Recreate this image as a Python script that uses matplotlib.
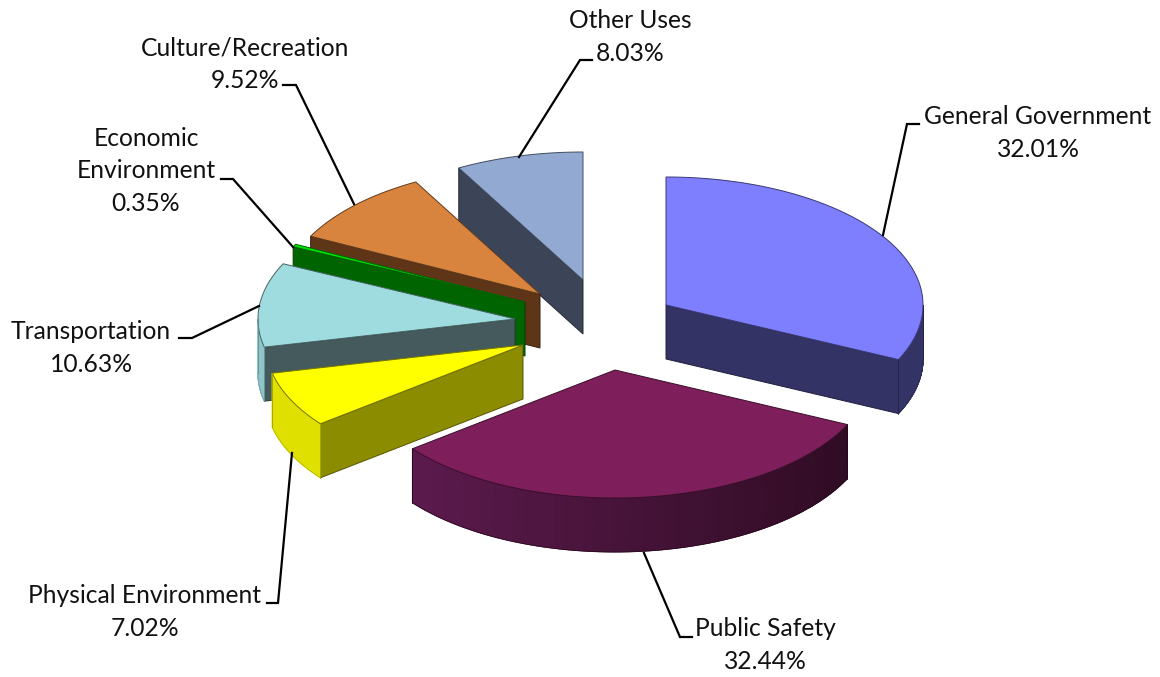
import numpy as np
import matplotlib
matplotlib.use("Agg")
import matplotlib.pyplot as plt
from matplotlib.colors import LinearSegmentedColormap, to_rgb
from matplotlib.patches import Polygon

# Fund shares, clockwise from 12 o'clock
names = ["General Government", "Public Safety", "Physical Environment", "Transportation",
         "Economic\nEnvironment", "Culture/Recreation", "Other Uses"]
shares = [32.01, 32.44, 7.02, 10.63, 0.35, 9.52, 8.03]

top_colors = ["#7e7fff", "#7e1f5c", "#ffff00", "#9fdcdf", "#00e000", "#d8843e", "#92a9d1"]
cut_colors = ["#333366", "#4a1038", "#8c8c00", "#455a5c", "#006400", "#5f3518", "#3c4558"]
rim_left = ["#333366", "#611c52", "#e0e000", "#8dc5c8", "#006400", "#5f3518", "#3c4558"]
rim_right = ["#333366", "#2e0b22", "#e0e000", "#8dc5c8", "#006400", "#5f3518", "#3c4558"]

# Tip of each exploded slice, in pixels
tips = [(666, 305), (615, 370), (523, 345), (515, 319), (525, 302), (540, 294), (583, 280)]

# label anchor, leader line points
label_pos = [(1038, 133), (765, 645), (145, 612), (91, 348), (146, 171), (245, 64), (630, 37)]
leaders = [
    [(883, 235), (907, 124), (919, 124)],
    [(644, 553), (680, 637), (692, 637)],
    [(292, 453), (278, 603), (267, 603)],
    [(259, 306), (192, 338), (179, 338)],
    [(293, 247), (233, 179), (221, 179)],
    [(354, 204), (296, 85), (283, 85)],
    [(519, 157), (580, 60), (592, 60)],
]

RX = 257
RY = 128
DEPTH = 54


def rim_xy(tip, deg):
    a = np.radians(deg)
    return tip[0] + RX * np.sin(a), tip[1] - RY * np.cos(a)


def darker(col, f=0.45):
    return tuple(c * f for c in to_rgb(col))


def draw_slice(ax, i, start, end):
    tip = tips[i]
    edge = darker(top_colors[i])
    # flat cut walls, only those facing the viewer
    cuts = []
    if start >= 180:
        cuts.append(start)
    if end <= 180:
        cuts.append(end)
    for deg in cuts:
        x, y = rim_xy(tip, deg)
        ax.add_patch(Polygon([tip, (x, y), (x, y + DEPTH), (tip[0], tip[1] + DEPTH)],
                             fc=cut_colors[i], ec=darker(cut_colors[i], 0.6), lw=0.7))
    # outer wall on the front half of the ellipse, shaded left to right
    lo, hi = max(start, 90), min(end, 270)
    if hi > lo:
        arc = np.linspace(lo, hi, 160)
        xs, ys = rim_xy(tip, arc)
        gx = np.vstack([xs, xs])
        gy = np.vstack([ys, ys + DEPTH])
        shade = np.vstack([np.sin(np.radians(arc))] * 2)
        cmap = LinearSegmentedColormap.from_list("rim", [rim_left[i], rim_right[i]])
        ax.pcolormesh(gx, gy, shade, shading="gouraud", cmap=cmap, vmin=-1, vmax=1)
        # outline of the wall
        ax.plot(xs, ys + DEPTH, color=darker(rim_right[i], 0.8), lw=0.5)
        for deg in (lo, hi):
            x, y = rim_xy(tip, deg)
            ax.plot([x, x], [y, y + DEPTH], color=darker(rim_right[i], 0.7), lw=0.6)
    # top face
    arc = np.linspace(start, end, max(int(end - start) * 2, 4))
    xs, ys = rim_xy(tip, arc)
    pts = [tip] + list(zip(xs, ys))
    ax.add_patch(Polygon(pts, closed=True, fc=top_colors[i], ec=edge, lw=0.7))


fig = plt.figure(figsize=(11.6, 6.77), dpi=100)
ax = fig.add_axes([0, 0, 1, 1])
ax.axis("off")

angles = np.cumsum([0] + shares) / sum(shares) * 360

# back slices first so the front ones cover them
for i in [6, 5, 4, 3, 2, 0, 1]:
    draw_slice(ax, i, angles[i], angles[i + 1])

for i, name in enumerate(names):
    xs, ys = zip(*leaders[i])
    ax.plot(xs, ys, color="black", lw=1.6, solid_joinstyle="miter")
    ax.text(label_pos[i][0], label_pos[i][1], name + "\n" + f"{shares[i]:.2f}%",
            ha="center", va="center", fontsize=17.7, family="Lato", color="#111111",
            linespacing=1.5)

ax.set_xlim(0, 1160)
ax.set_ylim(677, 0)
fig.savefig("out.png", dpi=100)
